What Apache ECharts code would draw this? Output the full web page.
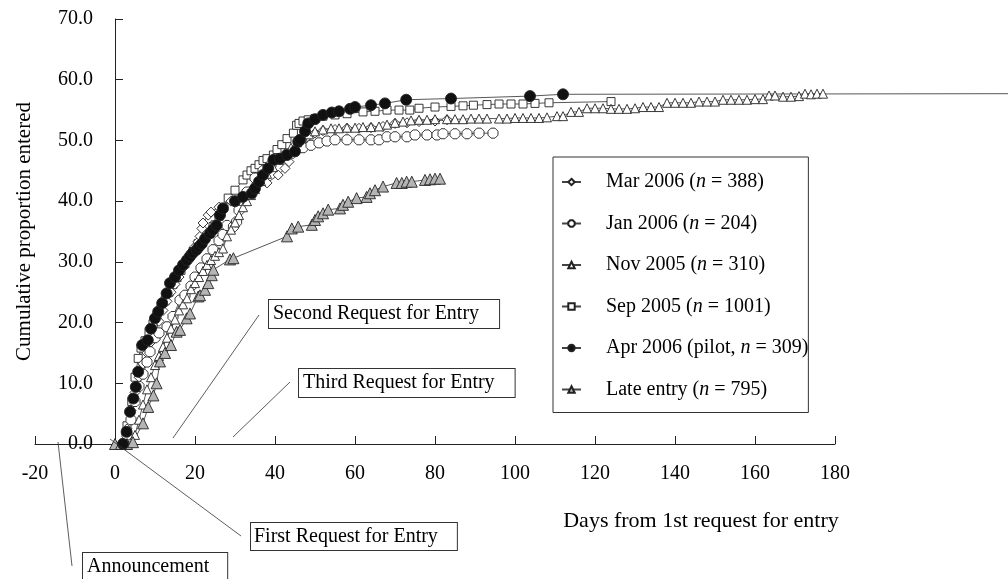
<!DOCTYPE html>
<html>
<head>
<meta charset="utf-8">
<script src="https://cdn.jsdelivr.net/npm/echarts@6/dist/echarts.min.js"></script>
<style>html,body{margin:0;padding:0;background:#fff}#c{width:1008px;height:579px}</style>
</head>
<body>
<div id="c"></div>
<script>
// ---- axis ticks ----
const xTicks = [-20, 0, 20, 40, 60, 80, 100, 120, 140, 160, 180];
const yTicks = [0, 10, 20, 30, 40, 50, 60, 70];
const xTailMax = 224; // the pilot curve's flat tail runs past the last tick to the page edge

// ---- series names ----
const seriesNames = ['Mar 2006 (n = 388)', 'Jan 2006 (n = 204)', 'Nov 2005 (n = 310)',
  'Sep 2005 (n = 1001)', 'Apr 2006 (pilot, n = 309)', 'Late entry (n = 795)'];

// ---- data: [days from 1st request, cumulative % entered] ----
const mar2006 = [[2,0],[3,2.5],[4,5.5],[5,8.5],[6,11],[7,13.2],[8,15],[9,16.8],[10,18.5],[11,20.2],[12,22],[13,23.5],[14,25],[15,26.3],[16,27.5],[17,29],[18,30.5],[19,31.6],[20,32.5],[20.75,33.3],[21.25,34.2],[21.7,35.5],[22,36.4],[23.3,37.7],[24,38.2],[26,39],[29,40],[32,41],[35,42],[38,43],[40.8,44.3],[42.5,45.4],[43.5,46.5],[44.5,47.8],[45.5,48.8],[46.5,49.6],[48,50.5],[50,51.2],[52,51.6],[55,51.8],[58,52],[61,52],[64,52.1],[67,52.3],[70,52.8],[73,52.9],[76,53.1],[80,53.2],[83,53.4]];

const jan2006 = [[2,0],[3,1.5],[4,4],[5,7],[6,9.5],[7,11.5],[8,13.5],[8.75,15.2],[10,17.5],[11,18.3],[13,19.3],[14.5,21],[16.25,23.7],[17.5,24.5],[19,26],[20,27.5],[21.5,29],[23,30.5],[24.5,32],[26,33.5],[27,34.5],[28,36],[29.6,35.8],[30.4,36.6],[31,38.5],[32,40],[33,41.5],[35,43.8],[37,45],[39,46],[41,47],[43,47.8],[45,48.3],[47,48.8],[49,49.2],[51,49.6],[53,49.9],[55,50.1],[58,50.1],[61,50.1],[64,50.1],[66,50.1],[68,50.6],[70,50.6],[73,50.6],[75,50.9],[78,50.9],[80.5,50.9],[82,51.1],[85,51.1],[88,51.1],[91,51.2],[94.5,51.2]];

const nov2005 = [[3,0],[5,1.5],[6,4],[7,6.5],[8,9],[9,11],[10,13],[11,14.5],[12,16],[13,17.5],[14,19],[15,20.5],[16,22],[17,23],[18,24],[19,25.5],[20,26.5],[21,27.5],[22,28.5],[23,29.5],[24,30.3],[25,31],[26,31.6],[27,32.2],[28,34.2],[29,35.3],[30,36.5],[31,37.7],[32,39],[33,40],[34,41],[35,42],[36.5,43.3],[38,44.5],[39.5,45.6],[41,46.8],[42.5,47.8],[44,48.8],[45.5,49.7],[47,50.5],[48.5,51],[50,51.5],[52,51.8],[54,52],[56,52],[58,52.1],[60,52.1],[62,52.2],[64,52.2],[66,52.3],[68,52.6],[70,52.9],[72,53.1],[74,53.3],[76,53.4],[78,53.4],[80,53.5],[83,53.5],[85,53.5],[87,53.5],[89,53.6],[91,53.6],[93,53.6],[96,53.6],[98,53.6],[100,53.7],[102,53.7],[104,53.7],[106,53.7],[108,53.8],[110.5,54],[112,54],[114,54.7],[116,54.7],[118,55.3],[120,55.3],[122,55.3],[124,55.2],[126,55.2],[128,55.2],[130,55.3],[132,55.5],[134,55.5],[136,55.5],[138,56.2],[140,56.2],[142,56.2],[144,56.2],[146,56.4],[148,56.4],[150,56.4],[152,56.7],[154,56.7],[156,56.7],[158,56.7],[160,56.8],[162,56.8],[163.5,57.4],[165,57.4],[167,57.2],[169,57.2],[171,57.3],[172.5,57.7],[174,57.6],[175.5,57.7],[177,57.7]];

const sep2005 = [[2,0],[3,3],[4.2,7],[5,11],[5.8,14.1],[6.5,15.8],[7.5,17],[8.5,18.5],[9.5,19.8],[10.5,21],[11.5,22.3],[12.5,23.6],[13.5,25],[14.5,26.3],[15.5,27.4],[16.5,28.6],[17.5,29.7],[18.5,30.7],[19.5,31.7],[20.8,33],[22,34],[23,34.8],[24.5,35.8],[25,36.1],[26,37.5],[27,39],[28.3,40.5],[30,41.8],[32,43.5],[33,44.3],[34,45],[35,45.4],[36,46],[37,46.7],[38,47],[39.6,47.6],[40.5,48.5],[41.7,49.3],[43,50.3],[44.6,51.2],[45.4,52.5],[46,52.8],[47,53.2],[48.3,53.4],[50,53.6],[52,54],[55,54.2],[58,54.4],[62,54.7],[65,54.8],[68,55],[71,55],[73.7,55],[76,55.3],[80,55.5],[84,55.6],[87,55.7],[89.6,55.8],[93,55.9],[96,56],[99,56],[102,56],[105,56.1],[108.5,56.2],[124,56.4]];

const apr2006 = [[2,0],[2.9,2],[3.75,5.3],[4.6,7.5],[5.2,9.4],[5.8,11.9],[6.8,16.3],[8.2,17.1],[9,19],[10,20.7],[10.8,21.8],[11.8,23.2],[12.9,24.8],[13.75,26.5],[15,27.5],[16,28.6],[17,29.5],[18,30.3],[18.75,30.9],[19.5,31.5],[20.4,32],[21,32.5],[21.7,33],[22.5,33.8],[23.75,34.7],[24.5,35.3],[25.4,36],[26.25,37.7],[27,38.8],[30,40],[32,40.7],[34.2,41.3],[35,42.1],[36,43.2],[37,44.3],[38.3,45.4],[39.6,46.8],[41.25,47],[43,47.6],[45,48.2],[45.8,49.8],[46.25,50.1],[47.5,51.5],[48.3,52.8],[50,53.5],[52,54.2],[54.2,54.6],[56,54.8],[58.75,55.2],[60,55.5],[64,55.8],[67.5,56.1],[72.8,56.7],[84,56.9],[103.75,57.3],[112,57.6],[224,57.7]];

const lateEntry = [[0,0],[1.5,0],[3,0],[4.5,0.3],[7,3.4],[8.3,6.1],[9.6,8],[10.4,10],[11.25,13.6],[12.5,15],[14,16.3],[15.4,18.5],[16.25,18.8],[17.9,20.7],[18.75,21.5],[20.8,24.3],[21.25,24.5],[22.5,25.4],[23.3,26.5],[24.2,27.8],[24.6,28.7],[28.75,30.4],[29.6,30.6],[43,34.2],[44.2,35.5],[45.8,35.8],[49.2,36.1],[50,36.9],[50.8,37.5],[52,38],[53.3,38.6],[56.25,38.8],[57,39.4],[58.3,39.9],[60.4,40.5],[62.9,40.7],[63.75,41.3],[65,41.8],[67,42.4],[70.4,43],[71.7,43],[72.9,43.2],[74.2,43.2],[77.5,43.5],[78.75,43.6],[80,43.7],[81.25,43.7]];

// ---- annotations (text labels) ----
const annotations = ['Second Request for Entry', 'Third Request for Entry', 'First Request for Entry', 'Announcement'];

const FONT = '"Liberation Serif", "Times New Roman", serif';
const LINE = '#444';
const octagon = 'path://M3,0L7,0L10,3L10,7L7,10L3,10L0,7L0,3Z';
const xLast = xTicks[xTicks.length - 1];

function mk(name, data, symbol, size, fill, extra) {
  return Object.assign({
    name: name, type: 'line', data: data,
    symbol: symbol,
    symbolSize: function (v) { return v[0] > xLast ? 0 : size; },
    showAllSymbol: true,
    lineStyle: { color: LINE, width: 0.9 },
    itemStyle: { color: fill, borderColor: '#222', borderWidth: 0.9 },
    emphasis: { disabled: true },
    animation: false
  }, extra || {});
}

function box(text, left, top, pad) {
  return { type: 'text', left: left, top: top, z: 60, style: { text: text, font: '20px ' + FONT, fill: '#000',
    backgroundColor: '#fff', borderColor: '#333', borderWidth: 1, padding: pad } };
}
function leader(x1, y1, x2, y2) {
  return { type: 'line', shape: { x1: x1, y1: y1, x2: x2, y2: y2 }, style: { stroke: '#333', lineWidth: 0.8 }, z: 50 };
}

// grid 0: visible axes -20..180; grid 1: same scale, extended to the page edge for the tail
const pxPerDay = (1008 - 35 - 173) / (xLast - xTicks[0]);
const chart = echarts.init(document.getElementById('c'), null, { renderer: 'canvas' });
chart.setOption({
  animation: false,
  textStyle: { fontFamily: FONT, color: '#000' },
  grid: [
    { left: 35, right: 173, top: 19, bottom: 135, containLabel: false, outerBoundsMode: 'none' },
    { left: 35, width: pxPerDay * (xTailMax - xTicks[0]), top: 19, bottom: 135, containLabel: false, outerBoundsMode: 'none' }
  ],
  xAxis: [{
    type: 'value', gridIndex: 0, min: xTicks[0], max: xLast, interval: 20,
    axisLine: { onZero: false, lineStyle: { color: '#222', width: 1 } },
    axisTick: { inside: true, length: 8, lineStyle: { color: '#222' } },
    axisLabel: { fontFamily: FONT, fontSize: 20, color: '#000', margin: 20 },
    splitLine: { show: false }
  }, {
    type: 'value', gridIndex: 1, min: xTicks[0], max: xTailMax, show: false, splitLine: { show: false }
  }],
  yAxis: [{
    type: 'value', gridIndex: 0, min: yTicks[0], max: yTicks[yTicks.length - 1], interval: 10,
    offset: -pxPerDay * (0 - xTicks[0]),
    name: 'Cumulative proportion entered', nameLocation: 'middle', nameGap: 80,
    nameTextStyle: { fontFamily: FONT, fontSize: 21, color: '#000' },
    axisLine: { show: true, onZero: false, lineStyle: { color: '#222', width: 1 } },
    axisTick: { show: true, inside: true, length: 8, lineStyle: { color: '#222' } },
    axisLabel: { fontFamily: FONT, fontSize: 20, color: '#000', margin: 22,
      formatter: function (v) { return v.toFixed(1); } },
    splitLine: { show: false }
  }, {
    type: 'value', gridIndex: 1, min: yTicks[0], max: yTicks[yTicks.length - 1], show: false, splitLine: { show: false }
  }],
  legend: {
    orient: 'vertical', left: 553, top: 157,
    padding: [15, 0, 13, 8],
    itemGap: 21.5, itemWidth: 19, itemHeight: 8,
    borderColor: '#333', borderWidth: 1, backgroundColor: '#fff',
    data: seriesNames,
    formatter: function (name) {
      return '{t|' + name.replace('n = ', '}{i|n}{t| = ') + '}';
    },
    textStyle: {
      fontFamily: FONT, fontSize: 20, color: '#000', padding: [0, 0, 0, 20],
      rich: {
        t: { fontFamily: FONT, fontSize: 20, color: '#000', lineHeight: 20 },
        i: { fontFamily: FONT, fontSize: 20, color: '#000', fontStyle: 'italic', lineHeight: 20 }
      }
    }
  },
  series: [
    mk(seriesNames[3], sep2005, 'rect', 8, '#fff'),
    mk(seriesNames[0], mar2006, 'diamond', 10, '#fff'),
    mk(seriesNames[1], jan2006, octagon, 10, '#fff'),
    mk(seriesNames[2], nov2005, 'triangle', 9, '#fff'),
    mk(seriesNames[5], lateEntry, 'triangle', 11, '#b4b4b4'),
    mk(seriesNames[4], apr2006, 'circle', 11, '#111', { xAxisIndex: 1, yAxisIndex: 1 })
  ],
  graphic: [
    leader(173, 438, 259, 315),
    leader(233, 437, 290, 382),
    leader(110, 439, 241, 536),
    leader(58, 442, 72, 566),
    box(annotations[0], 268, 299, [4, 20, 4, 4]),
    box(annotations[1], 298, 368, [4, 20, 4, 4]),
    box(annotations[2], 250, 522, [4, 19, 3, 3]),
    box(annotations[3], 82, 552, [4, 18, 6, 4]),
    { type: 'text', x: 701, y: 521, z: 60, style: { text: 'Days from 1st request for entry', font: '22px ' + FONT,
      fill: '#000', align: 'center', verticalAlign: 'middle' } }
  ]
});
</script>
</body>
</html>
